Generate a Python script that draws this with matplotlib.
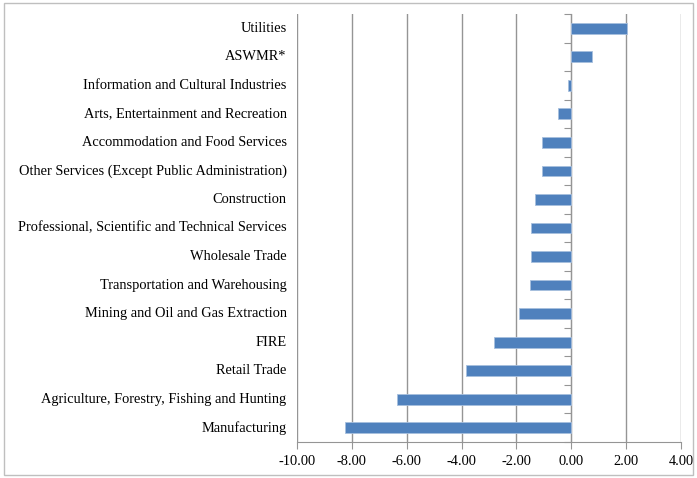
import matplotlib
matplotlib.use("Agg")
import matplotlib.pyplot as plt
from matplotlib.patches import Rectangle

categories = [
    "Utilities",
    "ASWMR*",
    "Information and Cultural Industries",
    "Arts, Entertainment and Recreation",
    "Accommodation and Food Services",
    "Other Services (Except Public Administration)",
    "Construction",
    "Professional, Scientific and Technical Services",
    "Wholesale Trade",
    "Transportation and Warehousing",
    "Mining and Oil and Gas Extraction",
    "FIRE",
    "Retail Trade",
    "Agriculture, Forestry, Fishing and Hunting",
    "Manufacturing",
]
values = [2.03, 0.74, -0.10, -0.50, -1.08, -1.08, -1.31, -1.45, -1.47,
          -1.51, -1.90, -2.82, -3.83, -6.34, -8.23]
x_ticks = [-10, -8, -6, -4, -2, 0, 2, 4]

plt.rcParams["font.family"] = ["Liberation Serif", "DejaVu Serif"]

fig = plt.figure(figsize=(6.97, 4.78), dpi=100)
fig.patch.set_facecolor("white")
fig.patches.append(Rectangle((0.006, 0.006), 0.988, 0.987, transform=fig.transFigure,
                             fill=False, edgecolor="#BFBFBF", linewidth=1.0))

ax = fig.add_axes([0.426, 0.0753, 0.551, 0.8954])
n = len(categories)
ypos = list(range(n))
ax.barh(ypos, values, height=0.38, color="#4F81BD", edgecolor="#A7BFDE",
        linewidth=0.6, zorder=3)

ax.set_xlim(-10, 4)
ax.set_ylim(n - 0.5, -0.5)
ax.set_xticks(x_ticks)
ax.set_xticklabels([f"{t:.2f}" for t in x_ticks], fontsize=10.4)
ax.xaxis.grid(True, color="#959595", linewidth=1.0, zorder=0)
ax.tick_params(axis="x", direction="out", length=5, color="#959595", pad=4)

# category axis sits on zero, ticks between categories
for s in ["top", "right"]:
    ax.spines[s].set_visible(False)
ax.spines["left"].set_position(("data", 0))
ax.spines["left"].set_color("#959595")
ax.spines["bottom"].set_color("#959595")
ax.set_yticks([i + 0.5 for i in range(-1, n)])
ax.set_yticklabels([])
ax.tick_params(axis="y", direction="out", length=5, color="#959595")

for i, c in enumerate(categories):
    ax.annotate(c, xy=(0, i), xycoords=("axes fraction", "data"),
                xytext=(-7.5, 0), textcoords="offset points",
                ha="right", va="center", fontsize=10.4)

fig.savefig("out.png", dpi=100)
